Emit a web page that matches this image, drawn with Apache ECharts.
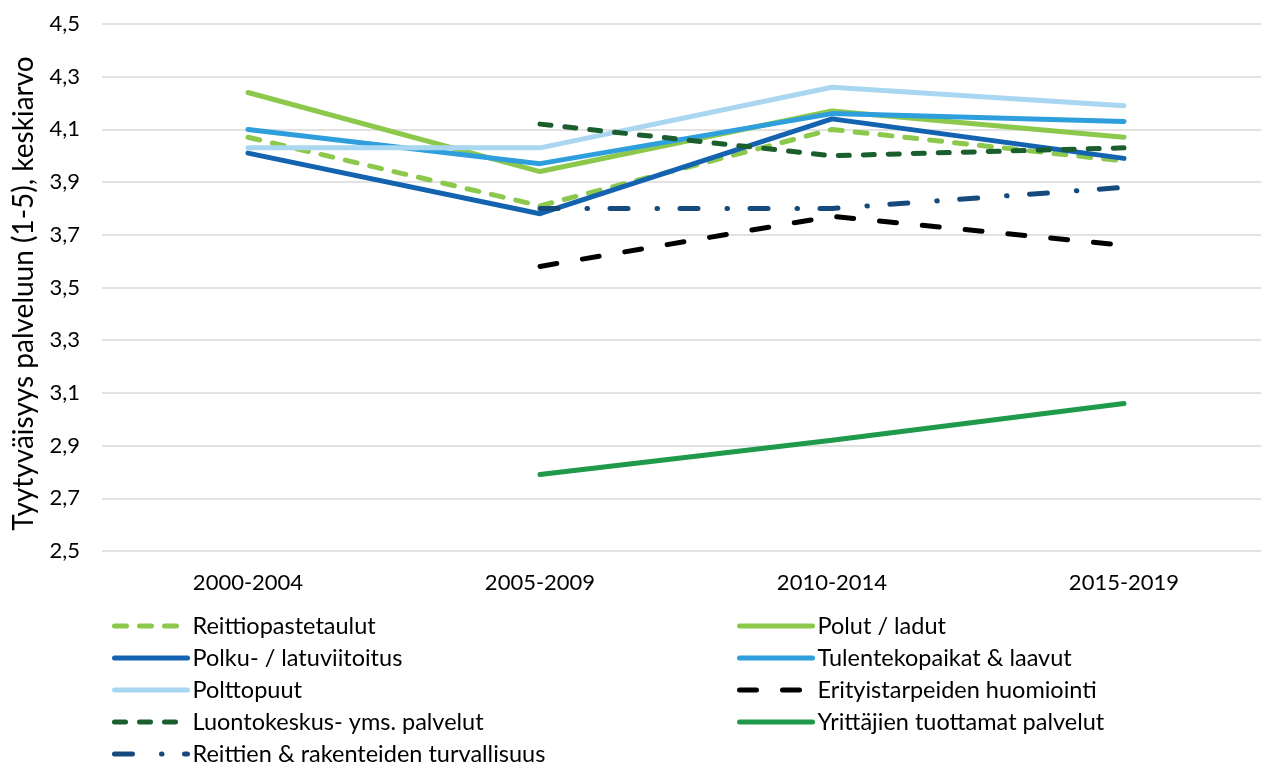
<!DOCTYPE html>
<html><head><meta charset="utf-8">
<script src="https://cdn.jsdelivr.net/npm/echarts@6/dist/echarts.min.js"></script>
<style>html,body{margin:0;padding:0;background:#fff}#c{width:1261px;height:764px}</style>
</head><body><div id="c"></div>
<script>
const categories = ['2000-2004', '2005-2009', '2010-2014', '2015-2019'];
const yTicks = [2.5, 2.7, 2.9, 3.1, 3.3, 3.5, 3.7, 3.9, 4.1, 4.3, 4.5];
const reittiopastetaulut = [4.07, 3.81, 4.10, 3.98];
const polutLadut = [4.24, 3.94, 4.17, 4.07];
const polkuViitoitus = [4.01, 3.78, 4.14, 3.99];
const tulentekopaikat = [4.10, 3.97, 4.16, 4.13];
const polttopuut = [4.03, 4.03, 4.26, 4.19];
const erityistarpeet = [null, 3.58, 3.77, 3.66];
const luontokeskus = [null, 4.12, 4.00, 4.03];
const yrittajat = [null, 2.79, 2.92, 3.06];
const turvallisuus = [null, 3.80, 3.80, 3.88];

const FONT = 'Lato';
function ser(name, data, color, type) {
  return {
    name, type: 'line', data, symbol: 'none', showSymbol: false, connectNulls: false,
    lineStyle: { color, width: 5, type: type || 'solid', cap: 'round', join: 'round' },
    itemStyle: { color },
    emphasis: { disabled: true }
  };
}
const series = [
  ser('Reittiopastetaulut', reittiopastetaulut, '#8cc84b', [12, 13]),
  ser('Polut / ladut', polutLadut, '#8cc84b'),
  ser('Polku- / latuviitoitus', polkuViitoitus, '#1463b0'),
  ser('Tulentekopaikat & laavut', tulentekopaikat, '#2e9fdc'),
  ser('Polttopuut', polttopuut, '#a9d6f0'),
  ser('Erityistarpeiden huomiointi', erityistarpeet, '#000000', [17, 26]),
  ser('Luontokeskus- yms. palvelut', luontokeskus, '#1a5e2e', [11, 14]),
  ser('Yrittäjien tuottamat palvelut', yrittajat, '#1f9a4a'),
  ser('Reittien & rakenteiden turvallisuus', turvallisuus, '#174a7c', [18, 29, 0.5, 22.5])
];
const legendCommon = {
  orient: 'vertical', itemWidth: 73, itemHeight: 20, itemGap: 8, height: 200,
  textStyle: { fontFamily: FONT, fontSize: 23.5, lineHeight: 23.5, color: '#000' },
  itemStyle: { opacity: 0 },
  lineStyle: { width: 5, cap: 'round' },
  selectedMode: false
};
const chart = echarts.init(document.getElementById('c'));
chart.setOption({
  animation: false,
  backgroundColor: '#fff',
  grid: { left: 102, top: 24, right: -9, bottom: 213, containLabel: false, outerBoundsMode: 'none' },
  xAxis: {
    type: 'category', data: categories, boundaryGap: true,
    axisLine: { show: false }, axisTick: { show: false },
    axisLabel: { fontFamily: FONT, fontSize: 22, color: '#000', margin: 21 }
  },
  yAxis: {
    type: 'value', min: 2.5, max: 4.5, interval: 0.2,
    name: 'Tyytyväisyys palveluun (1-5), keskiarvo', nameLocation: 'middle', nameGap: 64, nameRotate: 90,
    nameTextStyle: { fontFamily: FONT, fontSize: 28, color: '#000', padding: [0, 12, 0, 0] },
    axisLine: { show: false }, axisTick: { show: false },
    axisLabel: { fontFamily: FONT, fontSize: 22, color: '#000', margin: 22,
      formatter: v => { const t = yTicks.find(x => Math.abs(x - v) < 1e-6); return (t !== undefined ? t : v).toFixed(1).replace('.', ','); } },
    splitLine: { lineStyle: { color: '#d9d9d9', width: 1.5 } }
  },
  legend: [
    Object.assign({}, legendCommon, { left: 107, top: 609,
      data: ['Reittiopastetaulut', 'Polku- / latuviitoitus', 'Polttopuut', 'Luontokeskus- yms. palvelut', 'Reittien & rakenteiden turvallisuus'] }),
    Object.assign({}, legendCommon, { left: 732, top: 609,
      data: ['Polut / ladut', 'Tulentekopaikat & laavut', 'Erityistarpeiden huomiointi', 'Yrittäjien tuottamat palvelut'] })
  ],
  series
});
</script></body></html>
